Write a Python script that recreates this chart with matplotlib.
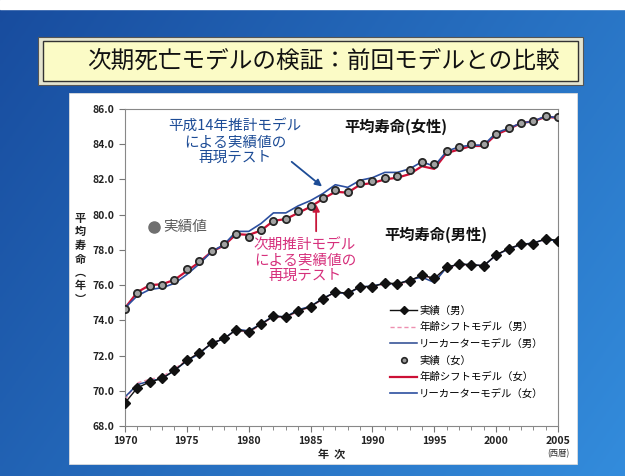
import numpy as np
import matplotlib
matplotlib.use("Agg")
import matplotlib.pyplot as plt
from matplotlib.patches import Rectangle
from matplotlib.lines import Line2D

plt.rcParams['font.family'] = ['Noto Sans CJK JP', 'DejaVu Sans']

years = list(range(1970, 2006))

# 平均寿命（男）
male_actual = [69.31, 70.17, 70.50, 70.70, 71.16, 71.73, 72.15, 72.69, 72.97, 73.46,
               73.35, 73.79, 74.22, 74.20, 74.54, 74.78, 75.23, 75.61, 75.54, 75.91,
               75.92, 76.11, 76.09, 76.25, 76.57, 76.38, 77.01, 77.19, 77.16, 77.10,
               77.72, 78.07, 78.32, 78.36, 78.64, 78.53]
male_shift = [69.50, 70.45, 70.65, 70.80, 71.25, 71.75, 72.15, 72.70, 72.95, 73.45,
              73.30, 73.75, 74.20, 74.15, 74.50, 74.75, 75.20, 75.60, 75.50, 75.90,
              75.90, 76.05, 76.05, 76.20, 76.55, 76.35, 76.95, 77.15, 77.15, 77.10,
              77.70, 78.05, 78.30, 78.35, 78.60, 78.50]
male_lc = [69.65, 70.35, 70.55, 70.70, 71.15, 71.70, 72.10, 72.70, 72.95, 73.50,
           73.40, 73.80, 74.25, 74.20, 74.60, 74.80, 75.25, 75.60, 75.50, 75.90,
           75.95, 76.10, 76.05, 76.30, 76.45, 76.15, 77.00, 77.20, 77.15, 77.10,
           77.70, 78.05, 78.30, 78.40, 78.60, 78.50]

# 平均寿命（女）
female_actual = [74.66, 75.58, 75.94, 76.02, 76.31, 76.89, 77.35, 77.95, 78.33, 78.89,
                 78.76, 79.13, 79.66, 79.78, 80.18, 80.48, 80.93, 81.39, 81.30, 81.77,
                 81.90, 82.11, 82.22, 82.51, 82.98, 82.85, 83.59, 83.82, 84.01, 83.99,
                 84.60, 84.93, 85.23, 85.33, 85.59, 85.52]
female_shift = [74.70, 75.60, 76.00, 76.05, 76.30, 76.80, 77.30, 77.90, 78.25, 78.90,
                78.85, 79.10, 79.65, 79.75, 80.10, 80.45, 80.90, 81.30, 81.25, 81.70,
                81.80, 82.00, 82.10, 82.30, 82.75, 82.60, 83.50, 83.70, 83.90, 83.90,
                84.55, 84.85, 85.20, 85.30, 85.55, 85.50]
female_lc = [74.70, 75.40, 75.75, 75.85, 76.10, 76.60, 77.20, 77.90, 78.30, 79.05,
             79.05, 79.50, 80.10, 80.10, 80.50, 80.80, 81.20, 81.70, 81.55, 81.95,
             82.10, 82.40, 82.40, 82.60, 83.00, 82.75, 83.60, 83.85, 83.95, 83.95,
             84.65, 84.90, 85.20, 85.30, 85.60, 85.50]

labels = ["実績（男）", "年齢シフトモデル（男）", "リーカーターモデル（男）",
          "実績（女）", "年齢シフトモデル（女）", "リーカーターモデル（女）"]

W, H = 625, 476
fig = plt.figure(figsize=(W / 100, H / 100), dpi=100)

# slide background: blue gradient
bg = fig.add_axes([0, 0, 1, 1])
gx, gy = np.meshgrid(np.linspace(0, 1, 200), np.linspace(0, 1, 200))
t = np.clip(0.65 * gx + 0.35 * gy, 0, 1)[..., None]
c0 = np.array([0x18, 0x4c, 0x9e]) / 255
c1 = np.array([0x33, 0x8c, 0xdc]) / 255
bg.imshow(c0 + (c1 - c0) * t, extent=[0, W, H, 0], aspect="auto")
bg.add_patch(Rectangle((0, 0), W, 9, color="white", zorder=2))
# title box
bg.add_patch(Rectangle((38, 37), 545, 48, facecolor="#e4e4cf", edgecolor="#555555",
                       lw=0.8, zorder=2))
bg.add_patch(Rectangle((43, 41), 535, 40, facecolor="#fbfbc6", edgecolor="#333333",
                       lw=1.0, zorder=3))
bg.text(323, 61, "次期死亡モデルの検証：前回モデルとの比較", fontsize=17,
        ha="center", va="center", color="#111111", zorder=4)
# white panel
bg.add_patch(Rectangle((69, 93), 508, 371, facecolor="white", edgecolor="#dddddd",
                       lw=0.6, zorder=2))
bg.set_xlim(0, W)
bg.set_ylim(H, 0)
bg.axis("off")

ax = fig.add_axes([125 / W, 1 - 426 / H, 433 / W, 317 / H])
ax.plot(years, male_shift, color="#ee8fb0", lw=1.0, ls=(0, (3, 2)), zorder=2)
ax.plot(years, male_lc, color="#27468f", lw=1.1, zorder=2)
ax.plot(years, male_actual, color="#111111", lw=1.0, marker="D", ms=5,
        mfc="#111111", mec="#111111", zorder=3)
ax.plot(years, female_shift, color="#cc1036", lw=1.6, zorder=2)
ax.plot(years, female_lc, color="#2c4fa0", lw=1.2, zorder=2)
ax.plot(years, female_actual, ls="none", marker="o", ms=5.2, mfc="#a2a2a2",
        mec="#262626", mew=1.3, zorder=4)

ax.set_xlim(1970, 2005)
ax.set_ylim(68, 86)
ax.set_xticks(range(1970, 2006, 5))
ax.set_xticks(range(1970, 2006), minor=True)
ax.set_yticks(np.arange(68, 86.1, 2))
ax.set_yticklabels([f"{v:.1f}" for v in np.arange(68, 86.1, 2)])
ax.tick_params(axis="both", which="both", direction="out", color="#777777",
               labelsize=7.5, labelcolor="#222222")
ax.tick_params(axis="both", which="major", length=4)
ax.tick_params(axis="x", which="minor", length=3)
for lab in ax.get_xticklabels() + ax.get_yticklabels():
    lab.set_fontweight("bold")
for s in ax.spines.values():
    s.set_color("#888888")
    s.set_linewidth(0.8)

# annotations
ax.text(1978.9, 84.1, "平成14年推計モデル\nによる実績値の\n再現テスト", color="#1d4c96",
        fontsize=10.5, ha="center", va="center", linespacing=1.15)
ax.annotate("", xy=(1986.1, 81.5), xytext=(1983.3, 83.1),
            arrowprops=dict(arrowstyle="-|>", color="#1d4c96", lw=1.3,
                            mutation_scale=10))
ax.text(1984.55, 77.4, "次期推計モデル\nによる実績値の\n再現テスト", color="#d6307c",
        fontsize=10.5, ha="center", va="center", linespacing=1.15)
ax.annotate("", xy=(1985.45, 80.75), xytext=(1985.45, 78.9),
            arrowprops=dict(arrowstyle="-|>", color="#c8173a", lw=1.3,
                            mutation_scale=10))
ax.text(1991.9, 85.0, "平均寿命(女性)", fontsize=11, fontweight="bold",
        ha="center", va="center", color="#111111")
ax.text(1995.1, 78.85, "平均寿命(男性)", fontsize=11, fontweight="bold",
        ha="center", va="center", color="#111111")
ax.plot([1972.35], [79.3], ls="none", marker="o", ms=8, color="#6f6f6f")
ax.text(1973.1, 79.3, "実績値", fontsize=10.5, color="#5a5a5a", ha="left",
        va="center")

handles = [
    Line2D([], [], color="#111111", lw=1.0, marker="D", ms=4),
    Line2D([], [], color="#ee8fb0", lw=1.0, ls=(0, (3, 2))),
    Line2D([], [], color="#27468f", lw=1.1),
    Line2D([], [], ls="none", marker="o", ms=4, mfc="#9a9a9a", mec="#262626", mew=1.2),
    Line2D([], [], color="#cc1036", lw=1.6),
    Line2D([], [], color="#2c4fa0", lw=1.2),
]
ax.legend(handles, labels, loc="upper left", bbox_to_anchor=(0.612, 0.38),
          frameon=False, fontsize=7.5, handlelength=2.6, handletextpad=0.2,
          labelspacing=0.62, borderpad=0, borderaxespad=0)

# axis titles
fig.text(332 / W, 1 - 454 / H, "年  次", fontsize=8, fontweight="bold",
         ha="center", va="center", color="#222222")
fig.text(558 / W, 1 - 454 / H, "(西暦)", fontsize=6, ha="center", va="center",
         color="#333333")
fig.text(80 / W, 1 - 259 / H, "\n".join("平均寿命︵年︶"), fontsize=8,
         fontweight="bold", ha="center", va="center", color="#222222",
         linespacing=1.05)

fig.savefig("out.png", dpi=100)
